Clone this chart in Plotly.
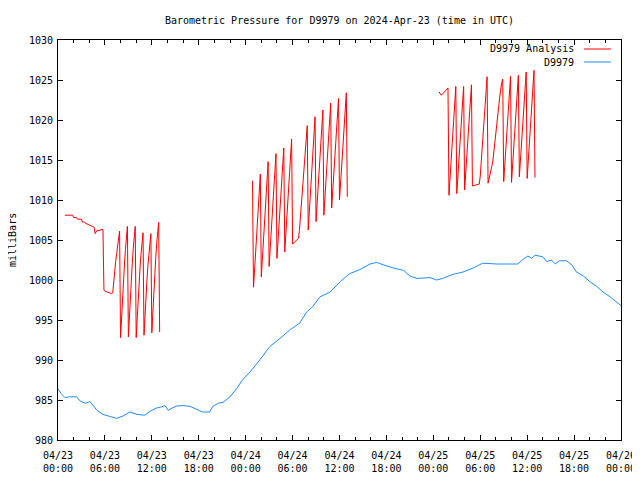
import datetime as dt
import plotly.graph_objects as go

BASE = dt.datetime(2024, 4, 23, 0, 0)

# ---- D9979 observed pressure (hours after 2024-04-23 00:00 UTC, mb) ----
obs_hours = [0.0, 0.4, 0.9, 1.5, 2.4, 2.8, 3.45, 4.1, 4.5, 4.95, 5.75, 6.5, 7.5, 8.3, 9.2,
             10.1, 11.1, 11.8, 12.6, 13.1, 13.7, 14.1, 14.6, 15.2, 16.0, 16.9, 17.7, 18.5,
             19.4, 19.8, 20.5, 21.1, 22.0, 22.9, 23.5, 24.55, 25.8, 27.1, 28.4, 29.7, 30.9,
             31.3, 31.8, 32.6, 33.5, 34.8, 36.1, 37.3, 38.6, 39.9, 40.75, 41.6, 42.9, 44.2,
             45.0, 45.9, 47.1, 47.6, 48.4, 49.2, 50.5, 51.8, 53.1, 54.3, 56.1, 57.8, 58.8,
             59.5, 60.1, 60.6, 61.0, 62.0, 62.5, 63.1, 63.6, 64.1, 65.05, 65.7, 66.3, 67.2,
             68.0, 68.9, 69.7, 70.6, 71.4, 72.0]
obs_mb = [986.4, 985.8, 985.3, 985.4, 985.4, 984.9, 984.6, 984.8, 984.3, 983.75, 983.2, 983.0,
          982.7, 983.0, 983.5, 983.2, 983.1, 983.6, 984.0, 984.1, 984.3, 983.7, 984.0, 984.25,
          984.3, 984.2, 983.8, 983.5, 983.5, 984.2, 984.6, 984.7, 985.4, 986.5, 987.4, 988.5,
          990.0, 991.7, 992.7, 993.8, 994.6, 995.2, 996.0, 996.7, 997.9, 998.5, 999.8, 1000.8,
          1001.3, 1002.0, 1002.2, 1001.9, 1001.5, 1001.2, 1000.5, 1000.2, 1000.3, 1000.3,
          1000.0, 1000.2, 1000.7, 1001.0, 1001.5, 1002.1, 1002.0, 1001.95, 1002.0, 1002.6,
          1003.0, 1002.7, 1003.1, 1002.9, 1002.3, 1002.5, 1002.0, 1002.4, 1002.4, 1001.9,
          1001.0, 1000.5, 999.8, 999.2, 998.5, 997.9, 997.3, 996.8]

# ---- D9979 Analysis (three runs; None = gap) ----
ana_hours = [
    # run 1
    0.875, 1.875, 2.0, 2.375, 2.5, 3.0, 3.125, 3.375, 3.5, 3.75, 3.875, 4.0, 4.5, 4.625,
    4.75, 4.875, 5.0, 5.375, 5.5, 5.75, 5.875, 6.0, 6.25, 6.5, 6.75, 6.875,
    7.0, 7.125, 7.25, 7.375, 7.5, 7.625, 7.75, 7.875,
    8.0, 8.125, 8.25, 8.375, 8.5, 8.625, 8.75, 8.875,
    9.0, 9.125, 9.25, 9.375, 9.5, 9.625, 9.75, 9.875,
    10.0, 10.125, 10.25, 10.375, 10.5, 10.625, 10.75, 10.875,
    11.0, 11.125, 11.25, 11.375, 11.5, 11.625, 11.75, 11.875,
    12.0, 12.125, 12.25, 12.375, 12.5, 12.625, 12.75, 12.875,
    13.0, None,
    # run 2
    24.875,
    25.0, 25.125, 25.25, 25.375, 25.5, 25.625, 25.75, 25.875,
    26.0, 26.125, 26.25, 26.375, 26.5, 26.625, 26.75, 26.875,
    27.0, 27.125, 27.25, 27.375, 27.5, 27.625, 27.75, 27.875,
    28.0, 28.125, 28.25, 28.375, 28.5, 28.625, 28.75, 28.875,
    29.0, 29.125, 29.25, 29.375, 29.5, 29.625, 29.75, 29.875,
    30.0, 30.125, 30.25, 30.375, 30.5, 30.625, 30.75, 30.875,
    31.0, 31.125, 31.25, 31.375, 31.5, 31.625, 31.75, 31.875,
    32.0, 32.125, 32.25, 32.375, 32.5, 32.625, 32.75, 32.875,
    33.0, 33.125, 33.25, 33.375, 33.5, 33.625, 33.75, 33.875,
    34.0, 34.125, 34.25, 34.375, 34.5, 34.625, 34.75, 34.875,
    35.0, 35.125, 35.25, 35.375, 35.5, 35.625, 35.75, 35.875,
    36.0, 36.125, 36.25, 36.375, 36.5, 36.625, 36.75, 36.875,
    37.0, None,
    # run 3
    48.75, 48.875, 49.0, 49.125, 49.25, 49.375, 49.5, 49.625, 49.75, 49.875,
    50.0, 50.125, 50.25, 50.375, 50.5, 50.625, 50.75, 50.875,
    51.0, 51.125, 51.25, 51.375, 51.5, 51.625, 51.75, 51.875,
    52.0, 52.125, 52.25, 52.375, 52.5, 52.625, 52.75, 52.875,
    53.0, 53.125, 53.25, 53.375, 53.5, 53.625, 53.75, 53.875,
    54.0, 54.125, 54.25, 54.375, 54.5, 54.625, 54.75, 54.875,
    55.0, 55.125, 55.25, 55.375, 55.5, 55.625, 55.75, 55.875,
    56.0, 56.125, 56.25, 56.375, 56.5, 56.625, 56.75, 56.875,
    57.0, 57.125, 57.25, 57.375, 57.5, 57.625, 57.75, 57.875,
    58.0, 58.125, 58.25, 58.375, 58.5, 58.625, 58.75, 58.875,
    59.0, 59.125, 59.25, 59.375, 59.5, 59.625, 59.75, 59.875,
    60.0, 60.125, 60.25, 60.375, 60.5, 60.625, 60.75, 60.875,
    61.0,
]
ana_mb = [
    # run 1
    1008.1, 1008.1, 1007.8, 1007.8, 1007.6, 1007.6, 1007.25, 1007.25, 1007.1, 1007.0, 1006.9,
    1006.8, 1006.7, 1006.6, 1005.8, 1006.0, 1006.2, 1006.2, 1006.3, 1006.3, 998.75, 998.6,
    998.5, 998.5, 998.4, 998.3,
    998.4, 1000.0, 1001.1, 1002.3, 1003.3, 1004.4, 1005.5, 1006.1,
    992.8, 995.6, 997.9, 1000.0, 1002.0, 1003.8, 1005.4, 1006.7,
    992.9, 995.7, 998.0, 1000.1, 1002.1, 1003.9, 1005.4, 1006.7,
    992.8, 995.5, 997.8, 999.8, 1001.7, 1003.3, 1004.7, 1005.9,
    993.1, 995.8, 998.0, 1000.0, 1001.8, 1003.4, 1004.7, 1005.8,
    993.4, 996.2, 998.6, 1000.8, 1002.8, 1004.6, 1006.0, 1007.2,
    993.5, None,
    # run 2
    1012.4,
    999.1, 1001.0, 1003.2, 1005.4, 1007.6, 1009.7, 1011.7, 1013.25,
    1000.4, 1002.5, 1004.6, 1006.7, 1008.7, 1010.7, 1012.8, 1014.8,
    1001.7, 1003.7, 1005.7, 1007.7, 1009.7, 1011.7, 1013.8, 1015.8,
    1002.7, 1004.7, 1006.6, 1008.6, 1010.6, 1012.5, 1014.5, 1016.5,
    1003.5, 1005.5, 1007.5, 1009.5, 1011.5, 1013.6, 1015.6, 1017.6,
    1004.5, 1004.6, 1004.7, 1004.8, 1004.9, 1005.0, 1005.2, 1006.2,
    1007.8, 1009.6, 1011.3, 1013.1, 1014.8, 1016.5, 1018.1, 1019.3,
    1006.25, 1008.3, 1010.3, 1012.4, 1014.4, 1016.4, 1018.4, 1020.4,
    1007.3, 1009.3, 1011.3, 1013.3, 1015.3, 1017.3, 1019.3, 1021.25,
    1008.1, 1010.1, 1012.1, 1014.1, 1016.1, 1018.1, 1020.1, 1022.1,
    1009.0, 1010.9, 1012.9, 1014.8, 1016.8, 1018.8, 1020.7, 1022.7,
    1010.0, 1011.9, 1013.8, 1015.7, 1017.6, 1019.5, 1021.4, 1023.4,
    1010.4, None,
    # run 3
    1023.5, 1023.3, 1023.1, 1023.2, 1023.35, 1023.5, 1023.6, 1023.75, 1023.9, 1024.0,
    1010.6, 1012.5, 1014.4, 1016.4, 1018.3, 1020.3, 1022.2, 1024.2,
    1010.8, 1012.7, 1014.6, 1016.5, 1018.4, 1020.3, 1022.3, 1024.2,
    1011.25, 1013.1, 1015.0, 1016.9, 1018.7, 1020.6, 1022.5, 1024.4,
    1011.75, 1011.8, 1011.8, 1011.85, 1011.9, 1011.9, 1011.95, 1012.0,
    1013.0, 1014.8, 1016.6, 1018.5, 1020.3, 1022.1, 1023.9, 1025.4,
    1012.1, 1012.6, 1013.1, 1013.6, 1014.3, 1015.0, 1016.0, 1017.0,
    1018.2, 1019.4, 1020.6, 1021.8, 1023.0, 1024.0, 1024.7, 1025.1,
    1012.3, 1014.2, 1016.1, 1018.0, 1019.9, 1021.8, 1023.7, 1025.5,
    1012.2, 1014.1, 1016.0, 1017.9, 1019.8, 1021.7, 1023.6, 1025.6,
    1012.9, 1014.8, 1016.7, 1018.6, 1020.4, 1022.3, 1024.2, 1026.0,
    1012.7, 1014.6, 1016.6, 1018.5, 1020.4, 1022.4, 1024.3, 1026.2,
    1012.8,
]

TITLE = "Barometric Pressure for D9979 on 2024-Apr-23 (time in UTC)"
Y_LABEL = "milliBars"
NAME_ANA = "D9979 Analysis"
NAME_OBS = "D9979"
RED = "#ff0000"
BLUE = "#1e8cff"
FONT = "DejaVu Sans Mono"

# The page body has an 8 px margin, so the figure is drawn at (8, 8).
OFF = 8
FIG_W, FIG_H = 640 - OFF, 480 - OFF
PLOT_L, PLOT_R, PLOT_T, PLOT_B = 58, 621, 40, 440  # page pixels


def to_time(h):
    return None if h is None else BASE + dt.timedelta(hours=h)


def px_x(p):
    return (p - PLOT_L) / (PLOT_R - PLOT_L)


def px_y(p):
    return (PLOT_B - p) / (PLOT_B - PLOT_T)


fig = go.Figure()
fig.add_trace(go.Scatter(x=[to_time(h) for h in ana_hours], y=ana_mb, mode="lines",
                         name=NAME_ANA, line=dict(color=RED, width=1), connectgaps=False))
fig.add_trace(go.Scatter(x=[to_time(h) for h in obs_hours], y=obs_mb, mode="lines",
                         name=NAME_OBS, line=dict(color=BLUE, width=1)))

fig.update_layout(
    width=FIG_W, height=FIG_H,
    margin=dict(l=PLOT_L - OFF, r=FIG_W - (PLOT_R - OFF), t=PLOT_T - OFF,
                b=FIG_H - (PLOT_B - OFF), autoexpand=False),
    paper_bgcolor="white", plot_bgcolor="white",
    showlegend=False,
    font=dict(family=FONT, size=10, color="black"),
    title=dict(text=TITLE, x=0.5, xref="paper", xanchor="center",
               y=1 - (20 - OFF) / FIG_H, yref="container", yanchor="middle",
               font=dict(family=FONT, size=10, color="black")),
)
fig.update_xaxes(
    type="date",
    range=[BASE, BASE + dt.timedelta(hours=72)],
    tick0=BASE, dtick=6 * 3600 * 1000, tickformat="%m/%d<br>%H:%M",
    ticks="inside", ticklen=5, tickcolor="black", tickwidth=1,
    minor=dict(dtick=2 * 3600 * 1000, ticks="inside", ticklen=3, tickcolor="black"),
    showline=True, linecolor="black", linewidth=1, mirror="ticks",
    showgrid=False, zeroline=False, ticklabelstandoff=6,
    tickfont=dict(family=FONT, size=10, color="black"),
)
fig.update_yaxes(
    range=[980, 1030], tick0=980, dtick=5,
    ticks="inside", ticklen=5, tickcolor="black", tickwidth=1,
    showline=True, linecolor="black", linewidth=1, mirror="ticks",
    showgrid=False, zeroline=False, ticklabelstandoff=2,
    tickfont=dict(family=FONT, size=10, color="black"),
)

# y-axis label
fig.add_annotation(text=Y_LABEL, xref="paper", yref="paper", x=px_x(12), y=0.5,
                   textangle=-90, showarrow=False, xanchor="center", yanchor="middle",
                   font=dict(family=FONT, size=10, color="black"))

# key (gnuplot style: text then line sample on the right)
for i, (name, color) in enumerate([(NAME_ANA, RED), (NAME_OBS, BLUE)]):
    yp = px_y(49 + 13 * i)
    fig.add_annotation(text=name, xref="paper", yref="paper", x=px_x(576), y=yp,
                       showarrow=False, xanchor="right", yanchor="middle",
                       font=dict(family=FONT, size=10, color="black"))
    fig.add_shape(type="line", xref="paper", yref="paper",
                  x0=px_x(584), x1=px_x(611), y0=yp, y1=yp,
                  line=dict(color=color, width=1))

fig.write_html("out.html")
